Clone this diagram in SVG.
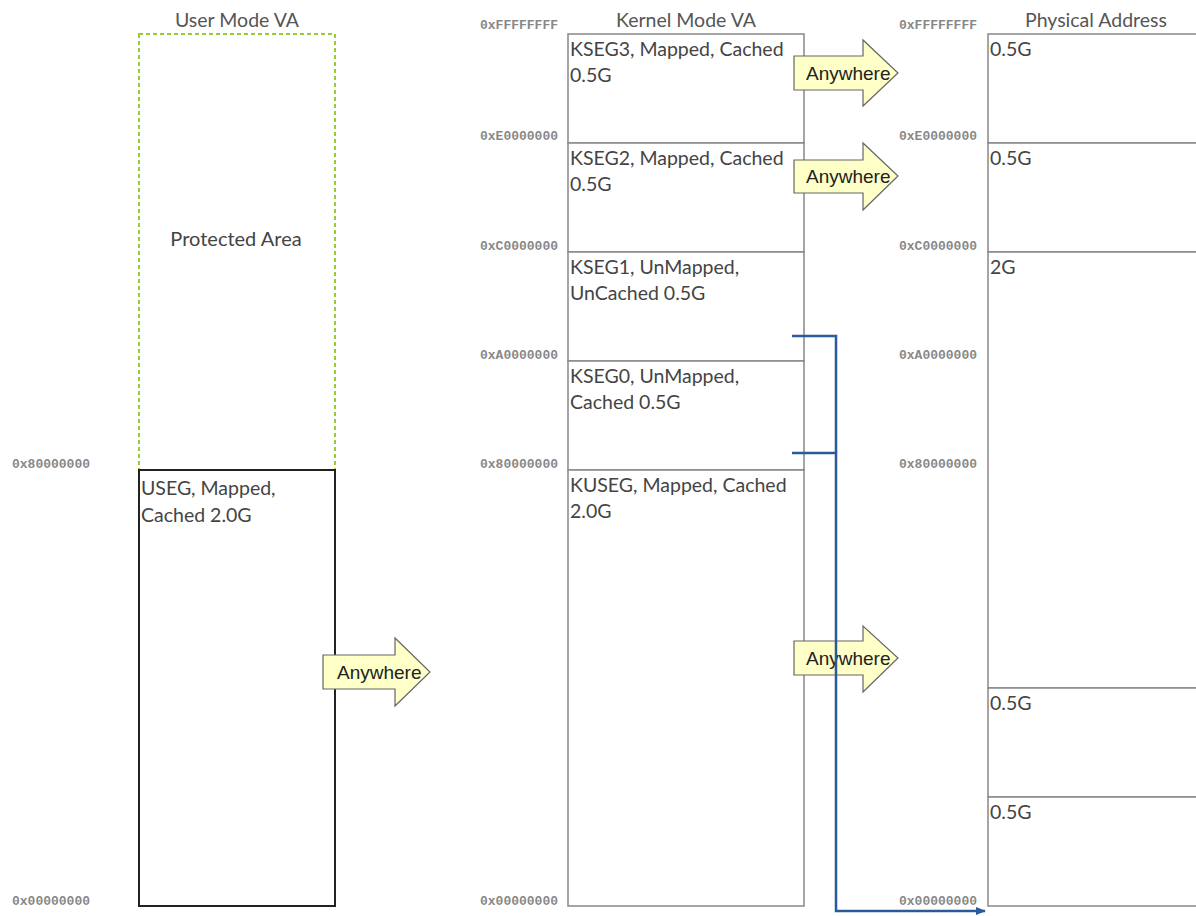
<svg xmlns="http://www.w3.org/2000/svg" width="1196" height="916" viewBox="0 0 1196 916">
<defs>
<style>
.hdr{font-family:Lato,"Liberation Sans",sans-serif;font-size:19.5px;fill:#555;text-anchor:middle}
.seg{font-family:Lato,"Liberation Sans",sans-serif;font-size:19.5px;fill:#444}
.addr{font-family:"Liberation Mono",monospace;font-size:13px;font-weight:bold;fill:#888;text-anchor:end}
.box{fill:#fff;stroke:#888;stroke-width:1.5}
.arw{fill:#ffffc8;stroke:#666;stroke-width:1.2}
.arwt{font-family:"Liberation Sans",Arial,sans-serif;font-size:19px;fill:#222}
</style>
<marker id="ah" markerWidth="10" markerHeight="10" refX="9" refY="5" orient="auto" markerUnits="userSpaceOnUse">
<path d="M0,1 L10,5 L0,9 Z" fill="#2a5a9a"/>
</marker>
</defs>
<rect width="1196" height="916" fill="#fff"/>

<g id="user-va">
<text class="hdr" x="237" y="27">User Mode VA</text>
<rect x="139" y="34" width="196" height="436" fill="none" stroke="#99cc33" stroke-width="2" stroke-dasharray="4,3"/>
<text class="seg" x="236" y="246" text-anchor="middle" style="font-size:20px">Protected Area</text>
<rect x="139" y="470" width="196" height="436" fill="#fff" stroke="#222" stroke-width="2"/>
<text class="seg" x="141" y="495">USEG, Mapped,</text>
<text class="seg" x="141" y="522">Cached 2.0G</text>
<text class="addr" x="90" y="468">0x80000000</text>
<text class="addr" x="90" y="905">0x00000000</text>
</g>

<g id="kernel-va">
<text class="hdr" x="686" y="27">Kernel Mode VA</text>
<rect class="box" x="568" y="34" width="236" height="109"/>
<rect class="box" x="568" y="143" width="236" height="109"/>
<rect class="box" x="568" y="252" width="236" height="109"/>
<rect class="box" x="568" y="361" width="236" height="109"/>
<rect class="box" x="568" y="470" width="236" height="436"/>
<text class="seg" x="570" y="56">KSEG3, Mapped, Cached</text>
<text class="seg" x="570" y="82">0.5G</text>
<text class="seg" x="570" y="165">KSEG2, Mapped, Cached</text>
<text class="seg" x="570" y="191">0.5G</text>
<text class="seg" x="570" y="274">KSEG1, UnMapped,</text>
<text class="seg" x="570" y="300">UnCached 0.5G</text>
<text class="seg" x="570" y="383">KSEG0, UnMapped,</text>
<text class="seg" x="570" y="409">Cached 0.5G</text>
<text class="seg" x="570" y="492">KUSEG, Mapped, Cached</text>
<text class="seg" x="570" y="518">2.0G</text>
<text class="addr" x="558" y="29">0xFFFFFFFF</text>
<text class="addr" x="558" y="140">0xE0000000</text>
<text class="addr" x="558" y="250">0xC0000000</text>
<text class="addr" x="558" y="359">0xA0000000</text>
<text class="addr" x="558" y="468">0x80000000</text>
<text class="addr" x="558" y="905">0x00000000</text>
</g>

<g id="physical">
<text class="hdr" x="1096" y="27">Physical Address</text>
<rect class="box" x="988" y="34" width="220" height="109"/>
<rect class="box" x="988" y="143" width="220" height="109"/>
<rect class="box" x="988" y="252" width="220" height="436"/>
<rect class="box" x="988" y="688" width="220" height="109"/>
<rect class="box" x="988" y="797" width="220" height="109"/>
<text class="seg" x="990" y="56">0.5G</text>
<text class="seg" x="990" y="165">0.5G</text>
<text class="seg" x="990" y="274">2G</text>
<text class="seg" x="990" y="710">0.5G</text>
<text class="seg" x="990" y="819">0.5G</text>
<text class="addr" x="977" y="29">0xFFFFFFFF</text>
<text class="addr" x="977" y="140">0xE0000000</text>
<text class="addr" x="977" y="250">0xC0000000</text>
<text class="addr" x="977" y="359">0xA0000000</text>
<text class="addr" x="977" y="468">0x80000000</text>
<text class="addr" x="977" y="905">0x00000000</text>
</g>

<g id="arrow-user">
<path class="arw" d="M323,655 H395 V638 L430,672 L395,706 V689 H323 Z"/>
<text class="arwt" x="337" y="679">Anywhere</text>
</g>
<g id="arrow-kseg3">
<path class="arw" d="M794,56 H863 V40 L898,73 L863,106 V90 H794 Z"/>
<text class="arwt" x="806" y="80">Anywhere</text>
</g>
<g id="arrow-kseg2">
<path class="arw" d="M794,160 H863 V143 L898,176 L863,210 V193 H794 Z"/>
<text class="arwt" x="806" y="183">Anywhere</text>
</g>
<g id="arrow-kuseg">
<path class="arw" d="M794,641 H863 V626 L898,658 L863,692 V675 H794 Z"/>
<text class="arwt" x="806" y="665">Anywhere</text>
</g>

<g id="connectors" fill="none" stroke="#2a5a9a" stroke-width="2.5">
<path d="M792,336 H836 V453"/>
<path d="M792,453 H836 V911 H985" marker-end="url(#ah)"/>
</g>
</svg>
